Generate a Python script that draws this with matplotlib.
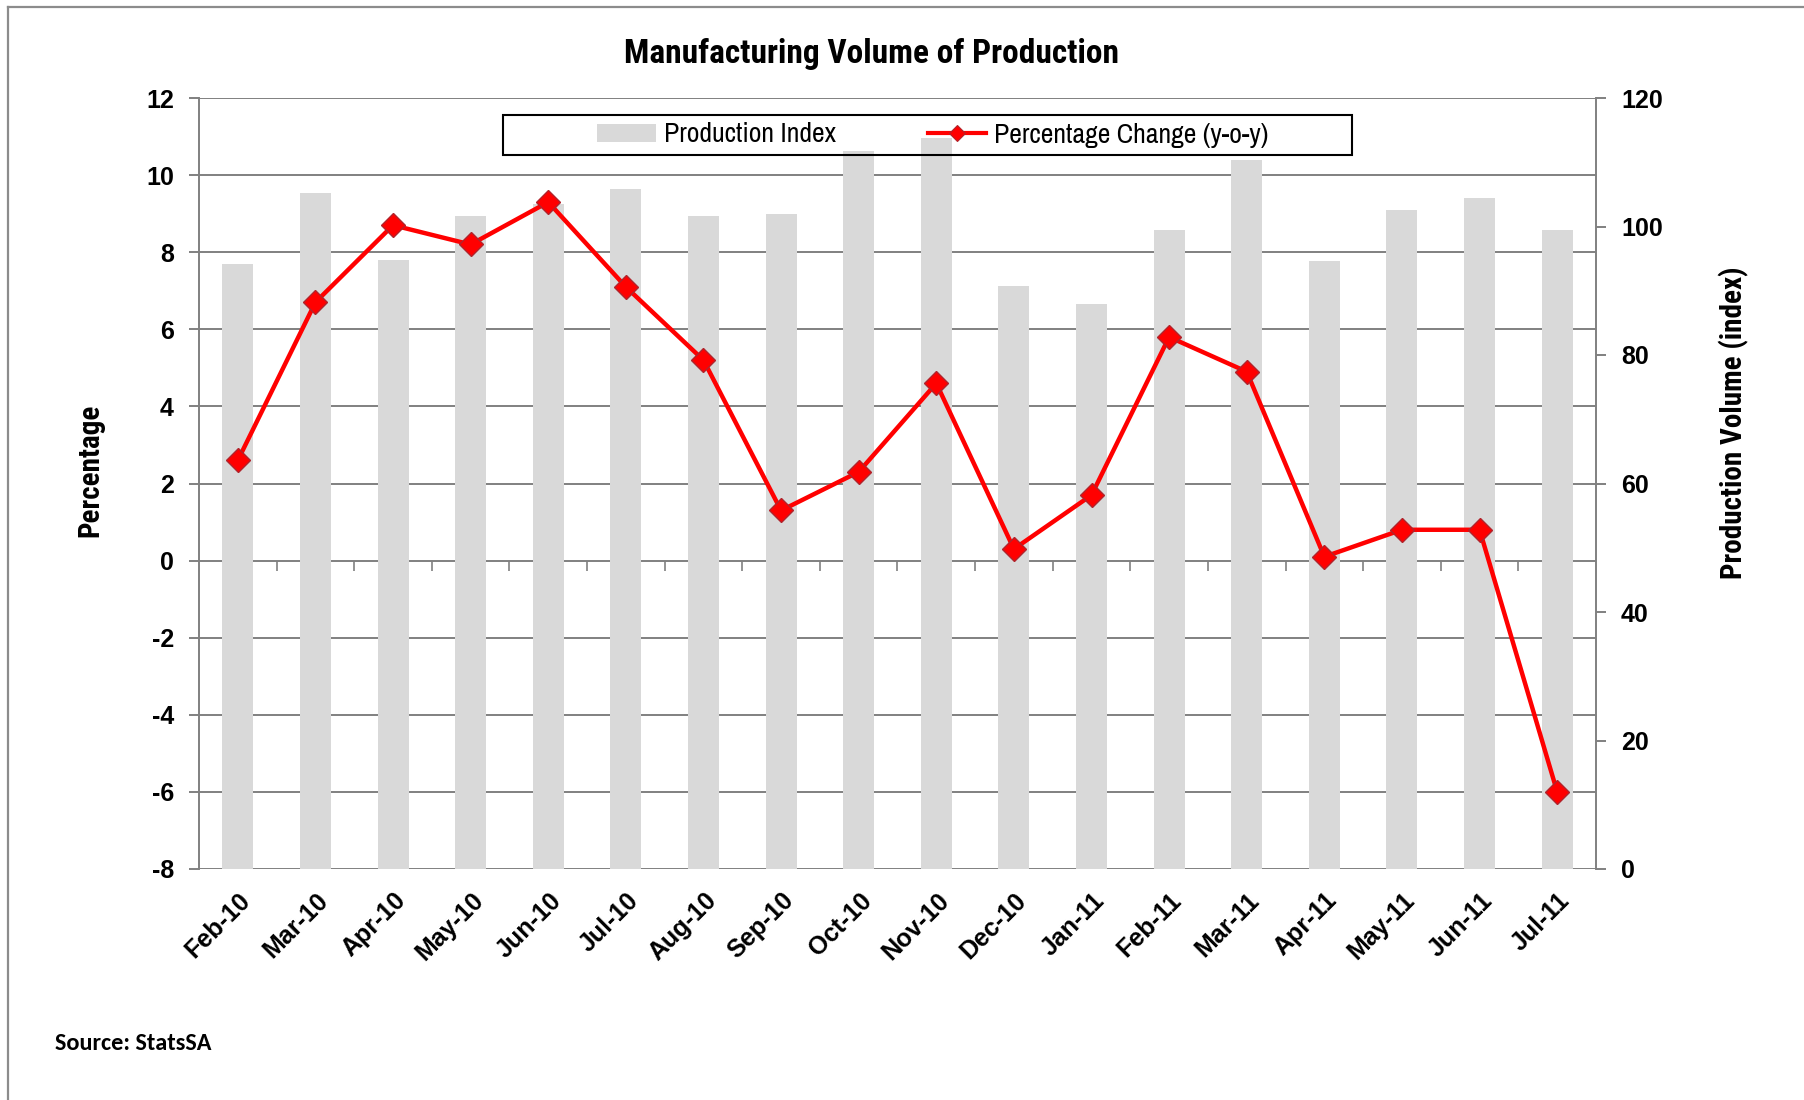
import numpy as np
import matplotlib
matplotlib.use("Agg")
import matplotlib.pyplot as plt
from matplotlib import font_manager as fm
from matplotlib.lines import Line2D
from matplotlib.patches import Patch, Rectangle
from matplotlib.transforms import ScaledTranslation

# ---- data -------------------------------------------------------------
months = ["Feb-10", "Mar-10", "Apr-10", "May-10", "Jun-10", "Jul-10",
          "Aug-10", "Sep-10", "Oct-10", "Nov-10", "Dec-10", "Jan-11",
          "Feb-11", "Mar-11", "Apr-11", "May-11", "Jun-11", "Jul-11"]
production_index = [94.1, 105.2, 94.8, 101.7, 103.5, 105.8, 101.7, 102.0,
                    111.8, 113.8, 90.7, 87.9, 99.5, 110.3, 94.7, 102.6,
                    104.5, 99.5]
pct_change = [2.6, 6.7, 8.7, 8.2, 9.3, 7.1, 5.2, 1.3, 2.3, 4.6, 0.3, 1.7,
              5.8, 4.9, 0.1, 0.8, 0.8, -6.0]
pct_ticks = list(range(-8, 13, 2))
index_ticks = list(range(0, 121, 20))

title = "Manufacturing Volume of Production"
left_label = "Percentage"
right_label = "Production Volume (index)"
bar_name = "Production Index"
line_name = "Percentage Change (y-o-y)"
source = "Source: StatsSA"


# ---- fonts ------------------------------------------------------------
def pick(candidates, min_weight=0):
    """First installed family (with a face at least min_weight heavy)."""
    for c in candidates:
        weights = [f.weight for f in fm.fontManager.ttflist if f.name == c]
        weights = [w if isinstance(w, int) else
                   (700 if str(w) == "bold" else 400) for w in weights]
        if weights and max(weights) >= min_weight:
            return [c, "DejaVu Sans"]
    return ["DejaVu Sans"]


NARROW_LIST = ["Arial Narrow", "Liberation Sans Narrow", "Archivo Narrow",
               "Roboto Condensed", "PT Sans Narrow", "IBM Plex Sans Condensed",
               "Open Sans Condensed"]
NARROW = pick(NARROW_LIST)
NARROW_BOLD = pick(NARROW_LIST, min_weight=700)
ARIAL = pick(["Arial", "Liberation Sans", "Arimo"])
CALIBRI = pick(["Calibri", "Carlito", "Lato"], min_weight=700)

plt.rcParams["axes.unicode_minus"] = False

GRID = "#808080"
BAR = "#D9D9D9"
RED = "#FF0000"

W, H = 1804, 1100
fig = plt.figure(figsize=(W / 100, H / 100), dpi=100)

L, R, T, B = 199, 1596, 98, 869
rect = [L / W, 1 - B / H, (R - L) / W, (B - T) / H]

ax = fig.add_axes(rect)          # percentage scale, grid, left ticks
ax_bar = ax.twinx()              # index scale, bars, right ticks
ax_line = fig.add_axes(rect, sharex=ax, sharey=ax)  # line on top
ax_line.patch.set_visible(False)
ax_line.set_axis_off()

x = np.arange(len(months))
ax.set_xlim(-0.5, len(months) - 0.5)
ax.set_ylim(pct_ticks[0], pct_ticks[-1])
ax.set_yticks(pct_ticks)
ax.grid(axis="y", color=GRID, lw=1.4)
ax.set_axisbelow(True)
for s in ("top", "bottom", "right"):
    ax.spines[s].set_visible(False)
ax.spines["left"].set_color(GRID)
ax.spines["left"].set_linewidth(1.4)
ax.tick_params(axis="y", length=7, width=1.4, color=GRID, pad=11,
               labelsize=18)
for lab in ax.get_yticklabels():
    lab.set_fontfamily(ARIAL)
    lab.set_fontweight("bold")

ax.set_xticks(x)
ax.set_xticklabels(months, rotation=45, ha="right", va="center",
                   rotation_mode="anchor", fontsize=18, fontweight="bold",
                   family=ARIAL)
ax.tick_params(axis="x", length=0, pad=20)
shift = ScaledTranslation(9 / 100, 0, fig.dpi_scale_trans)
for lab in ax.get_xticklabels():
    lab.set_transform(lab.get_transform() + shift)

# category boundary ticks along the zero line
zero_pos = (0 - pct_ticks[0]) / (pct_ticks[-1] - pct_ticks[0])
sec = ax.secondary_xaxis(zero_pos)
sec.set_xticks(np.arange(0.5, len(months) - 1, 1.0))
sec.tick_params(axis="x", direction="out", length=7, width=1.2, color=GRID,
                labelbottom=False, labeltop=False)
for s in sec.spines.values():
    s.set_visible(False)

# bars
ax_bar.bar(x, production_index, width=0.4, color=BAR, zorder=2)
ax_bar.set_ylim(index_ticks[0], index_ticks[-1])
ax_bar.set_yticks(index_ticks)
for s in ("top", "bottom", "left"):
    ax_bar.spines[s].set_visible(False)
ax_bar.spines["right"].set_color(GRID)
ax_bar.spines["right"].set_linewidth(1.4)
ax_bar.tick_params(axis="y", length=7, width=1.4, color=GRID, pad=11,
                   labelsize=18)
for lab in ax_bar.get_yticklabels():
    lab.set_fontfamily(ARIAL)
    lab.set_fontweight("bold")

# line
ax_line.plot(x, pct_change, color=RED, lw=3.2, marker="D", ms=12.5,
             mfc=RED, mec="#B0242C", mew=1.0, zorder=3)

# legend with its own box
handles = [Patch(fc=BAR, ec="none"),
           Line2D([], [], color=RED, lw=3, marker="D", ms=8, mfc=RED,
                  mec="#B0242C", mew=0.8)]
fig.legend(handles, [bar_name, line_name], loc="center",
           bbox_to_anchor=(933 / W, 1 - 135 / H), ncol=2, frameon=False,
           prop={"family": NARROW, "size": 20}, handlelength=2.1,
           handletextpad=0.3, columnspacing=3.3, handleheight=0.6)
fig.add_artist(Rectangle((503 / W, 1 - 155 / H), 849 / W, 40 / H,
                         transform=fig.transFigure, fill=False,
                         ec="black", lw=1.5))

# texts
fig.text(871 / W, 1 - 54 / H, title, ha="center", va="center",
         fontsize=24, fontweight="bold", family=NARROW_BOLD)
fig.text(90 / W, 1 - 470 / H, left_label, ha="center", va="center",
         rotation=90, fontsize=21, fontweight="bold", family=NARROW_BOLD)
fig.text(1734 / W, 1 - 423 / H, right_label, ha="center", va="center",
         rotation=90, fontsize=21, fontweight="bold", family=NARROW_BOLD)
fig.text(55 / W, 1 - 1043 / H, source, ha="left", va="center",
         fontsize=17.5, fontweight="bold", family=CALIBRI)

# outer frame (top and left edges)
fig.add_artist(Line2D([8 / W, 8 / W], [0, 1 - 7 / H], color="#8C8C8C",
                      lw=1.6, transform=fig.transFigure))
fig.add_artist(Line2D([8 / W, 1], [1 - 7 / H, 1 - 7 / H], color="#8C8C8C",
                      lw=1.6, transform=fig.transFigure))

fig.savefig("out.png", dpi=100)
